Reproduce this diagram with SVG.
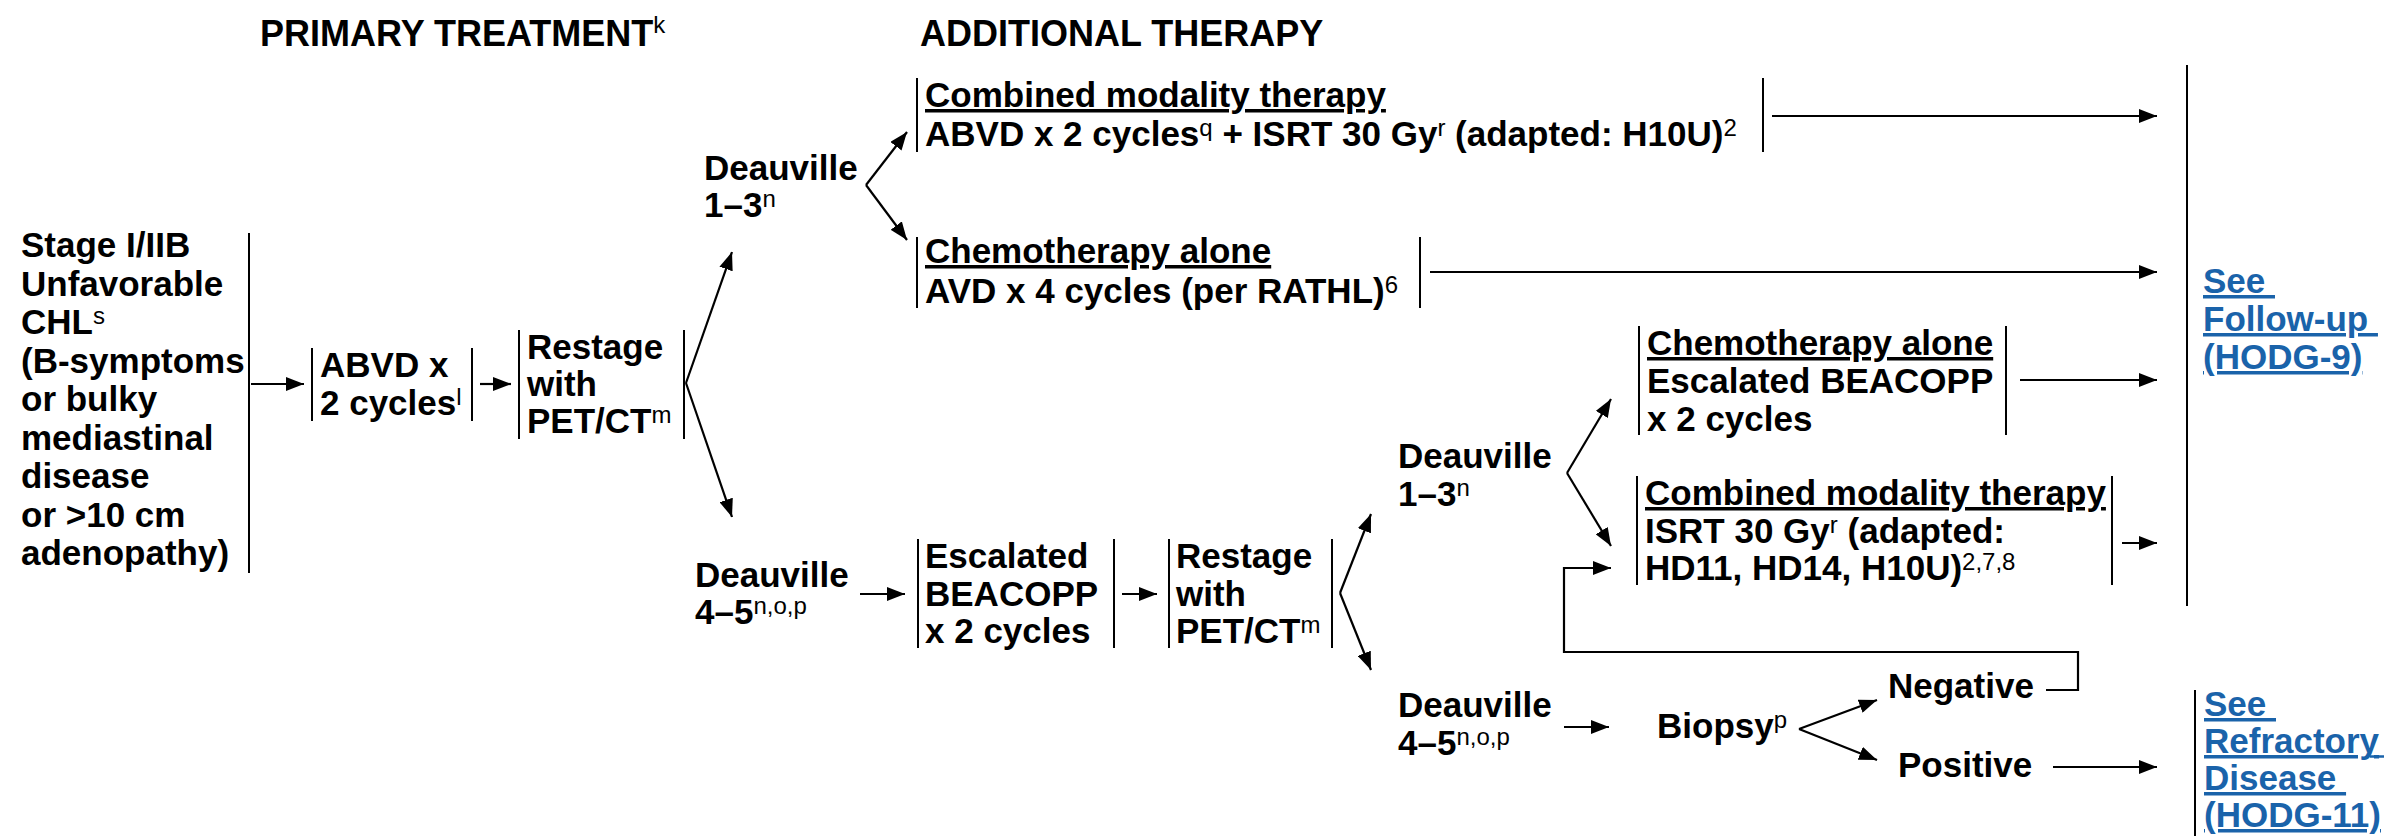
<svg xmlns="http://www.w3.org/2000/svg" width="2384" height="836" viewBox="0 0 2384 836">
<style>
text{font-family:"Liberation Sans",Arial,sans-serif;font-weight:bold;font-size:35px;fill:#000}
.title{font-size:36px}
.sup{font-size:24px;font-weight:normal}
.u{text-decoration:underline}
.link{fill:#1a63aa;text-decoration:underline}
.bar{stroke:#000;stroke-width:2;fill:none}
.c{stroke:#000;stroke-width:2.2;fill:none}
.a{marker-end:url(#ah)}
</style>
<defs>
<marker id="ah" markerUnits="userSpaceOnUse" markerWidth="20" markerHeight="14" refX="18" refY="7" orient="auto">
<path d="M0,0 L18,7 L0,14 z" fill="#000"/>
</marker>
</defs>
<rect width="2384" height="836" fill="#fff"/>

<g id="headers">
<text class="title" x="260" y="46">PRIMARY TREATMENT<tspan class="sup" dy="-13">k</tspan></text>
<text class="title" x="920" y="46">ADDITIONAL THERAPY</text>
</g>

<g id="n-stage">
<line class="bar" x1="249" y1="233" x2="249" y2="573"/>
<text x="21" y="257">Stage I/IIB</text>
<text x="21" y="295.5">Unfavorable</text>
<text x="21" y="334">CHL<tspan class="sup" dy="-10">s</tspan></text>
<text x="21" y="372.5">(B-symptoms</text>
<text x="21" y="411">or bulky</text>
<text x="21" y="449.5">mediastinal</text>
<text x="21" y="488">disease</text>
<text x="21" y="526.5">or &gt;10 cm</text>
<text x="21" y="565">adenopathy)</text>
</g>

<g id="n-abvd">
<line class="bar" x1="312" y1="348" x2="312" y2="421"/>
<line class="bar" x1="472" y1="348" x2="472" y2="421"/>
<text x="320" y="377">ABVD x</text>
<text x="320" y="415">2 cycles<tspan class="sup" dy="-10">l</tspan></text>
</g>

<g id="n-restage1">
<line class="bar" x1="519" y1="330" x2="519" y2="439"/>
<line class="bar" x1="684" y1="330" x2="684" y2="439"/>
<text x="527" y="359">Restage</text>
<text x="527" y="396">with</text>
<text x="527" y="433">PET/CT<tspan class="sup" dy="-10">m</tspan></text>
</g>

<g id="n-deau13-a">
<text x="704" y="180">Deauville</text>
<text x="704" y="217">1–3<tspan class="sup" dy="-10">n</tspan></text>
</g>

<g id="n-deau45-a">
<text x="695" y="587">Deauville</text>
<text x="695" y="624">4–5<tspan class="sup" dy="-10">n,o,p</tspan></text>
</g>

<g id="n-cmt-a">
<line class="bar" x1="917" y1="78" x2="917" y2="152"/>
<line class="bar" x1="1763" y1="78" x2="1763" y2="152"/>
<text class="u" x="925" y="107">Combined modality therapy</text>
<text x="925" y="146">ABVD x 2 cycles<tspan class="sup" dy="-10">q</tspan><tspan dy="10"> + ISRT 30 Gy</tspan><tspan class="sup" dy="-10">r</tspan><tspan dy="10"> (adapted: H10U)</tspan><tspan class="sup" dy="-10">2</tspan></text>
</g>

<g id="n-chemo-a">
<line class="bar" x1="917" y1="237" x2="917" y2="308"/>
<line class="bar" x1="1420" y1="237" x2="1420" y2="308"/>
<text class="u" x="925" y="263">Chemotherapy alone</text>
<text x="925" y="303">AVD x 4 cycles (per RATHL)<tspan class="sup" dy="-10">6</tspan></text>
</g>

<g id="n-escalated">
<line class="bar" x1="918" y1="539" x2="918" y2="648"/>
<line class="bar" x1="1114" y1="539" x2="1114" y2="648"/>
<text x="925" y="568">Escalated</text>
<text x="925" y="606">BEACOPP</text>
<text x="925" y="643">x 2 cycles</text>
</g>

<g id="n-restage2">
<line class="bar" x1="1169" y1="539" x2="1169" y2="648"/>
<line class="bar" x1="1332" y1="539" x2="1332" y2="648"/>
<text x="1176" y="568">Restage</text>
<text x="1176" y="606">with</text>
<text x="1176" y="643">PET/CT<tspan class="sup" dy="-10">m</tspan></text>
</g>

<g id="n-deau13-b">
<text x="1398" y="468">Deauville</text>
<text x="1398" y="506">1–3<tspan class="sup" dy="-10">n</tspan></text>
</g>

<g id="n-deau45-b">
<text x="1398" y="717">Deauville</text>
<text x="1398" y="755">4–5<tspan class="sup" dy="-10">n,o,p</tspan></text>
</g>

<g id="n-chemo-b">
<line class="bar" x1="1639" y1="326" x2="1639" y2="435"/>
<line class="bar" x1="2006" y1="326" x2="2006" y2="435"/>
<text class="u" x="1647" y="355">Chemotherapy alone</text>
<text x="1647" y="393">Escalated BEACOPP</text>
<text x="1647" y="431">x 2 cycles</text>
</g>

<g id="n-cmt-b">
<line class="bar" x1="1637" y1="476" x2="1637" y2="585"/>
<line class="bar" x1="2112" y1="476" x2="2112" y2="585"/>
<text class="u" x="1645" y="505">Combined modality therapy</text>
<text x="1645" y="543">ISRT 30 Gy<tspan class="sup" dy="-10">r</tspan><tspan dy="10"> (adapted:</tspan></text>
<text x="1645" y="580">HD11, HD14, H10U)<tspan class="sup" dy="-10">2,7,8</tspan></text>
</g>

<g id="n-biopsy">
<text x="1657" y="738">Biopsy<tspan class="sup" dy="-10">p</tspan></text>
</g>

<g id="n-negative">
<text x="1888" y="698">Negative</text>
</g>

<g id="n-positive">
<text x="1898" y="777">Positive</text>
</g>

<g id="n-followup">
<line class="bar" x1="2187" y1="65" x2="2187" y2="606"/>
<text class="link" x="2203" y="293" xml:space="preserve">See </text>
<text class="link" x="2203" y="331" xml:space="preserve">Follow-up </text>
<text class="link" x="2203" y="369">(HODG-9)</text>
</g>

<g id="n-refractory">
<line class="bar" x1="2195" y1="690" x2="2195" y2="836"/>
<text class="link" x="2204" y="716" xml:space="preserve">See </text>
<text class="link" x="2204" y="753">Refractory</text>
<line x1="2370" y1="756.5" x2="2384" y2="756.5" stroke="#1a63aa" stroke-width="2.5"/>
<text class="link" x="2204" y="790" xml:space="preserve">Disease </text>
<text class="link" x="2204" y="827">(HODG-11)</text>
</g>

<g id="connectors">
<line class="c a" x1="251" y1="384" x2="304" y2="384"/>
<line class="c a" x1="480" y1="384" x2="511" y2="384"/>
<line class="c a" x1="686" y1="383" x2="732" y2="252"/>
<line class="c a" x1="686" y1="383" x2="732" y2="517"/>
<line class="c a" x1="866" y1="185" x2="907" y2="132"/>
<line class="c a" x1="866" y1="185" x2="907" y2="240"/>
<line class="c a" x1="1772" y1="116" x2="2157" y2="116"/>
<line class="c a" x1="1430" y1="272" x2="2157" y2="272"/>
<line class="c a" x1="860" y1="594" x2="905" y2="594"/>
<line class="c a" x1="1122" y1="594" x2="1157" y2="594"/>
<line class="c a" x1="1340" y1="593" x2="1371" y2="514"/>
<line class="c a" x1="1340" y1="593" x2="1371" y2="670"/>
<line class="c a" x1="1567" y1="473" x2="1611" y2="399"/>
<line class="c a" x1="1567" y1="473" x2="1611" y2="546"/>
<line class="c a" x1="2020" y1="380" x2="2157" y2="380"/>
<line class="c a" x1="2122" y1="543" x2="2157" y2="543"/>
<line class="c a" x1="1564" y1="727" x2="1609" y2="727"/>
<line class="c a" x1="1799" y1="729" x2="1877" y2="700"/>
<line class="c a" x1="1799" y1="729" x2="1877" y2="760"/>
<polyline class="c a" points="2046,690 2078,690 2078,652 1564,652 1564,568 1611,568"/>
<line class="c a" x1="2053" y1="767" x2="2157" y2="767"/>
</g>
</svg>
